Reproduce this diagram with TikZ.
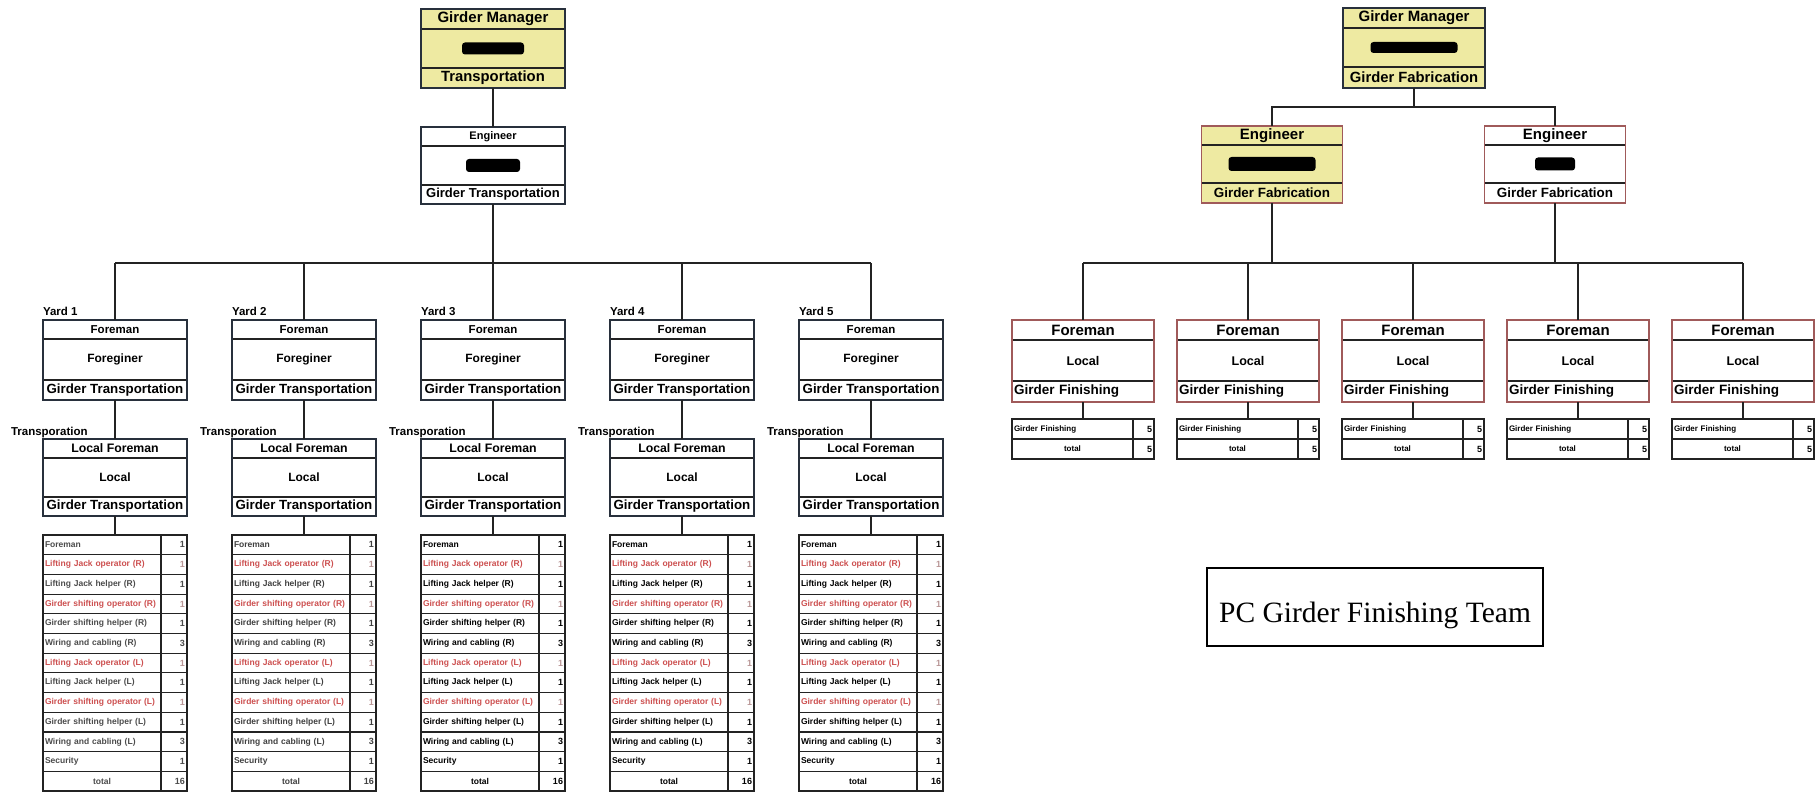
\documentclass[tikz,border=0pt]{standalone}
\usepackage{fontspec}
\newfontfamily\chartfont{Liberation Sans}
\newfontfamily\titlefont{Liberation Serif}
\newcommand\chartsize[1]{\fontsize{#1}{#1}\selectfont}

\definecolor{boxyellow}{RGB}{238,234,162}
\definecolor{rimdark}{RGB}{40,48,60}
\definecolor{rimred}{RGB}{160,90,90}
\definecolor{linkcol}{RGB}{35,35,35}
\definecolor{optext}{RGB}{205,80,80}
\definecolor{opval}{RGB}{185,150,150}

% three-row org box: style prefix, name, centre x, top y, three row texts
\newcommand\orgunit[7]{%
  \node[#1A, anchor=north] (#2-a) at (#3,#4) {#5};
  \node[#1B, anchor=north] (#2-b) at (#2-a.south) {#6};
  \node[#1C, anchor=north] (#2-c) at (#2-b.south) {#7};
  \draw[#1rim] (#2-a.north west) rectangle (#2-c.south east);
}

% crew list under each transportation yard
\newcommand\crewtable[4]{%
  \def\crewink{#4}%
  \foreach \lbl/\val/\kind [count=\i from 0] in {%
      Foreman/1/n, Lifting Jack operator (R)/1/r, Lifting Jack helper (R)/1/n,
      Girder shifting operator (R)/1/r, Girder shifting helper (R)/1/n,
      Wiring and cabling (R)/3/n, Lifting Jack operator (L)/1/r,
      Lifting Jack helper (L)/1/n, Girder shifting operator (L)/1/r,
      Girder shifting helper (L)/1/n, Wiring and cabling (L)/3/n,
      Security/1/n, total/16/t} {
    \node[crewlbl, crew-\kind, anchor=north west] (#1-l\i) at (#2, #3+\i*19.7) {\lbl};
    \node[crewval, crewv-\kind, anchor=north west] (#1-v\i) at (#1-l\i.north east) {\val};
  }
  \draw[tablerim] (#1-l0.north west) rectangle (#1-v12.south east);
}

% head-count table under each finishing foreman
\newcommand\finishtable[3]{%
  \node[finlbl, anchor=north west] (#1-l0) at (#2,#3) {Girder Finishing};
  \node[finval, anchor=north west] (#1-v0) at (#1-l0.north east) {5};
  \node[finlbl, align=center, anchor=north west] (#1-l1) at (#1-l0.south west) {total};
  \node[finval, anchor=north west] (#1-v1) at (#1-l1.north east) {5};
  \draw[tablerim] (#1-l0.north west) rectangle (#1-v1.south east);
}

\tikzset{
  every node/.style={inner sep=0pt, outer sep=0pt},
  link/.style={draw=linkcol, line width=1.5pt},
  cell/.style n args={3}{draw=linkcol, line width=1.2pt, minimum width=#1pt,
    minimum height=#2pt, font=\chartfont\bfseries\chartsize{#3}, text=black},
  redact/.style={fill=black, rounded corners=3pt},
  % transportation side
  mgrA/.style={cell={144}{20}{15}, fill=boxyellow},
  mgrB/.style={cell={144}{39}{12}, fill=boxyellow},
  mgrC/.style={cell={144}{20}{14.8}, fill=boxyellow},
  mgrrim/.style={draw=rimdark, line width=1.8pt},
  engA/.style={cell={144}{19}{11}, fill=white},
  engB/.style={cell={144}{39}{12}, fill=white},
  engC/.style={cell={144}{19}{13}, fill=white},
  engrim/.style={draw=rimdark, line width=1.8pt},
  yardA/.style={cell={144}{19}{11.5}, fill=white},
  yardB/.style={cell={144}{41}{12}, fill=white},
  yardC/.style={cell={144}{20}{13.3}, fill=white},
  yardrim/.style={draw=rimdark, line width=1.8pt},
  locA/.style={cell={144}{19}{12.3}, fill=white},
  locB/.style={cell={144}{39}{12}, fill=white},
  locC/.style={cell={144}{19}{13.3}, fill=white},
  locrim/.style={draw=rimdark, line width=1.8pt},
  yardlbl/.style={font=\chartfont\bfseries\chartsize{11.5}},
  crewlbl/.style={draw=linkcol, line width=1.1pt, text width=114pt, align=left,
    inner xsep=2pt, minimum height=19.7pt, font=\chartfont\bfseries\chartsize{8.5}},
  crewval/.style={draw=linkcol, line width=1.1pt, text width=22pt, align=right,
    inner xsep=2pt, minimum height=19.7pt, font=\chartfont\bfseries\chartsize{9}},
  crew-n/.style={text=\crewink},
  crew-r/.style={text=optext},
  crew-t/.style={text=\crewink, align=center},
  crewv-n/.style={text=\crewink},
  crewv-r/.style={text=opval},
  crewv-t/.style={text=\crewink},
  tablerim/.style={draw=linkcol, line width=1.6pt},
  % fabrication side
  rmgrA/.style={cell={142}{20}{15}, fill=boxyellow},
  rmgrB/.style={cell={142}{39}{12}, fill=boxyellow},
  rmgrC/.style={cell={142}{21}{14.8}, fill=boxyellow},
  rmgrrim/.style={draw=rimdark, line width=1.8pt},
  rengYA/.style={cell={141}{19}{15}, fill=boxyellow},
  rengYB/.style={cell={141}{38}{12}, fill=boxyellow},
  rengYC/.style={cell={141}{20}{13.4}, fill=boxyellow},
  rengYrim/.style={draw=rimred, line width=1.4pt},
  rengWA/.style={cell={141}{19}{15}, fill=white},
  rengWB/.style={cell={141}{38}{12}, fill=white},
  rengWC/.style={cell={141}{20}{13.4}, fill=white},
  rengWrim/.style={draw=rimred, line width=1.4pt},
  rforeA/.style={cell={142}{20}{15}, fill=white},
  rforeB/.style={cell={142}{41}{12.6}, fill=white},
  rforeC/.style={cell={142}{21}{13.5}, fill=white, text width=138pt, align=left, inner xsep=2pt},
  rforerim/.style={draw=rimred, line width=1.4pt},
  finlbl/.style={draw=linkcol, line width=1.1pt, text width=117pt, align=left,
    inner xsep=2pt, minimum height=20pt, font=\chartfont\bfseries\chartsize{8}},
  finval/.style={draw=linkcol, line width=1.1pt, text width=17pt, align=right,
    inner xsep=2pt, minimum height=20pt, font=\chartfont\bfseries\chartsize{9}},
  teambox/.style={draw=black, line width=1.2pt, minimum width=336pt, minimum height=78pt,
    font=\titlefont\chartsize{29.5}, text height=30pt, text depth=0pt},
}

\begin{document}
\begin{tikzpicture}[x=1pt, y=-1pt]
\fill[white] (0,0) rectangle (1819,799);
\useasboundingbox (0,0) rectangle (1819,799);

% ---------------- Girder transportation ----------------
\coordinate (busL) at (0,263);
\orgunit{mgr}{lm}{493}{9}{Girder Manager}{}{Transportation}
\node[redact, minimum width=62pt, minimum height=12pt] (lm-n) at (lm-b) {};
\orgunit{eng}{le}{493}{127}{Engineer}{}{Girder Transportation}
\node[redact, minimum width=54pt, minimum height=13pt] (le-n) at (le-b) {};
\draw[link] (lm-c.south) -- (le-a.north);
\draw[link] (le-c.south) -- (le-c.south |- busL);

\foreach \k/\cx/\ink in {1/115/black!70, 2/304/black!75, 3/493/black, 4/682/black, 5/871/black} {
  \orgunit{yard}{yf\k}{\cx}{320}{Foreman}{Foreginer}{Girder Transportation}
  \orgunit{loc}{lf\k}{\cx}{439}{Local Foreman}{Local}{Girder Transportation}
  \node[yardlbl, anchor=base west] (yl\k) at (\cx-72, 316) {Yard \k};
  \node[yardlbl, anchor=base west] (tl\k) at (\cx-104, 435) {Transporation};
  \crewtable{ct\k}{\cx-72}{535}{\ink}
  \draw[link] (yf\k-a.north) -- (yf\k-a.north |- busL);
  \draw[link] (yf\k-c.south) -- (lf\k-a.north);
  \draw[link] (lf\k-c.south) -- (lf\k-c.south |- ct\k-l0.north);
}
\draw[link] (yf1-a.north |- busL) -- (yf5-a.north |- busL);

% ---------------- Girder fabrication ----------------
\coordinate (busR) at (0,107);
\coordinate (busF) at (0,263);
\orgunit{rmgr}{rm}{1414}{8}{Girder Manager}{}{Girder Fabrication}
\node[redact, minimum width=87pt, minimum height=11pt] (rm-n) at (rm-b) {};
\orgunit{rengY}{re1}{1272}{126}{Engineer}{}{Girder Fabrication}
\node[redact, minimum width=87pt, minimum height=14pt] (re1-n) at (re1-b) {};
\orgunit{rengW}{re2}{1555}{126}{Engineer}{}{Girder Fabrication}
\node[redact, minimum width=40pt, minimum height=13pt] (re2-n) at (re2-b) {};
\draw[link] (rm-c.south) -- (rm-c.south |- busR);
\draw[link] (re1-a.north) -- (re1-a.north |- busR) -- (re2-a.north |- busR) -- (re2-a.north);
\draw[link] (re1-c.south) -- (re1-c.south |- busF);
\draw[link] (re2-c.south) -- (re2-c.south |- busF);

\foreach \k/\cx in {1/1083, 2/1248, 3/1413, 4/1578, 5/1743} {
  \orgunit{rfore}{rf\k}{\cx}{320}{Foreman}{Local}{Girder Finishing}
  \finishtable{ft\k}{\cx-71}{419}
  \draw[link] (rf\k-a.north) -- (rf\k-a.north |- busF);
  \draw[link] (rf\k-c.south) -- (rf\k-c.south |- ft\k-l0.north);
}
\draw[link] (rf1-a.north |- busF) -- (rf5-a.north |- busF);

\node[teambox] (team) at (1375,607) {PC Girder Finishing Team};
\end{tikzpicture}
\end{document}
